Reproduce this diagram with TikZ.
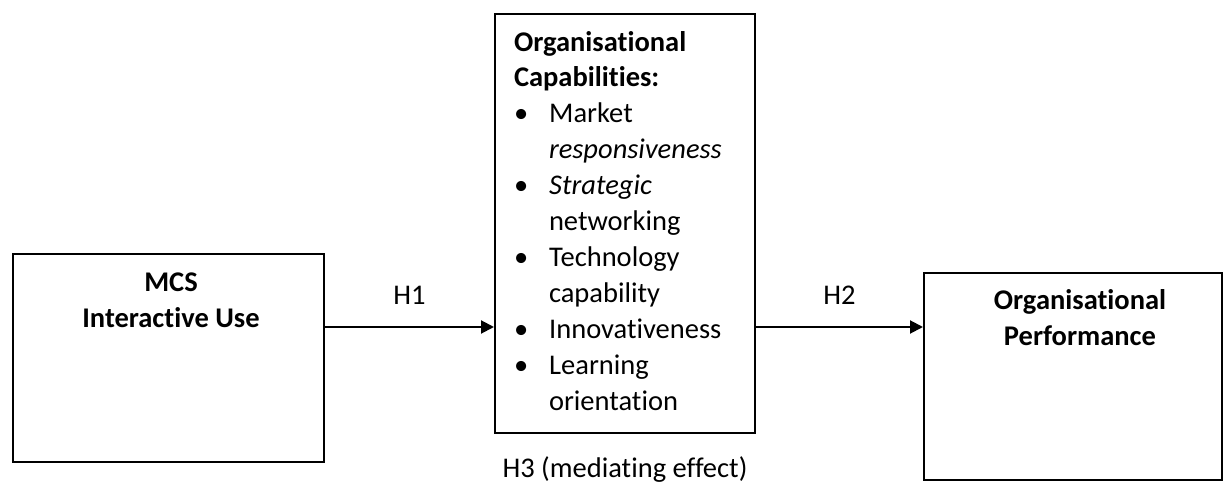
\documentclass[tikz,border=0pt]{standalone}
\usepackage{fontspec}
\setmainfont{Carlito}[Ligatures=CommonOff]
\usepackage{tikz}
\usetikzlibrary{arrows.meta,positioning}
\tikzset{
box/.style={
    rectangle,
    draw,
    line width=1pt,
    inner sep=0pt
},
connector/.style={
    line width=1pt,
    -{Triangle[length=6.5pt,width=6.5pt]}
},
hyp/.style={
    inner sep=0pt
}
}

\begin{document}
\begin{tikzpicture}[x=0.5pt,y=-0.5pt]
\fontsize{14.25}{18}\selectfont
\useasboundingbox (0,0) rectangle (1223,486);

\node[box, anchor=north west] (mcs) at (12,253) {\parbox[c][104pt][t]{155.5pt}{\vspace*{6.4pt}\centering\advance\leftskip by 2.5pt\strut\textbf{MCS}\\\textbf{Interactive Use}}};
\node[box, anchor=north west, inner xsep=9.5pt] (caps) at (494,13) {\parbox[c][209.5pt][t]{111pt}{\vspace*{5.9pt}\strut\textbf{Organisational}\\\textbf{Capabilities:}
\begin{list}{\textbullet}{\setlength{\leftmargin}{17.5pt}\setlength{\labelsep}{10.5pt}\setlength{\labelwidth}{7pt}\setlength{\itemsep}{0pt}\setlength{\parsep}{0pt}\setlength{\topsep}{0pt}\setlength{\partopsep}{0pt}}
\item Market\\\textit{responsiveness}
\item \textit{Strategic}\\networking
\item Technology\\capability
\item Innovativeness
\item Learning\\orientation
\end{list}}};
\node[box, anchor=north west] (perf) at (923,272) {\parbox[c][103.5pt][t]{149pt}{\vspace*{5.9pt}\centering\advance\leftskip by 7pt\strut\textbf{Organisational}\\\textbf{Performance}}};

\coordinate (hrow) at (0,327);
\path [connector] (mcs.east |- hrow) edge node[above=10.5pt, hyp] (h1) {H1} (caps.west |- hrow);
\path [connector] (caps.east |- hrow) edge node[above=10.5pt, hyp] (h2) {H2} (perf.west |- hrow);
\node[below=11pt of caps, hyp] (h3) {H3 (mediating effect)};

\end{tikzpicture}
\end{document}
